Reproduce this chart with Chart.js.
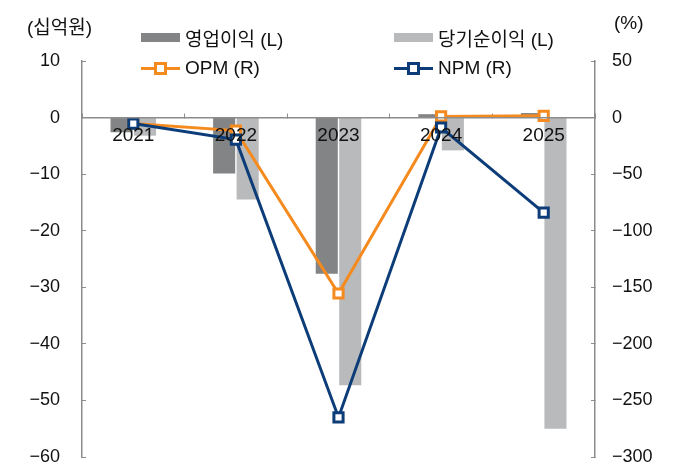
<!DOCTYPE html>
<html>
<head>
<meta charset="utf-8">
<script src="https://cdn.jsdelivr.net/npm/chart.js@4/dist/chart.umd.min.js"></script>
<style>
  body { margin: 0; background: #fff; }
  #wrap { position: relative; width: 680px; height: 473px; font-family: "Liberation Sans", "Noto Sans CJK KR", sans-serif; color: #111; }
  #myChart { position: absolute; left: 0; top: 0; }
  .unit { position: absolute; font-size: 19px; top: 12px; }
  .leg { position: absolute; font-size: 19px; display: flex; align-items: center; white-space: nowrap; }
  .leg .bar { width: 39px; height: 9px; margin-right: 5px; }
  .leg .ln { position: relative; width: 39px; height: 3px; margin-right: 5px; }
  .leg .ln i { position: absolute; left: 13px; top: -5px; width: 7px; height: 7px; border: 3px solid; background: #fff; }
</style>
</head>
<body>
<div id="wrap">
  <canvas id="myChart" width="680" height="473"></canvas>
  <div class="unit" style="left:27px">(십억원)</div>
  <div class="unit" style="left:614px">(%)</div>
  <div class="leg" style="left:141px;top:24px"><span class="bar" style="background:#828486"></span>영업이익 (L)</div>
  <div class="leg" style="left:394px;top:24px"><span class="bar" style="background:#b9babc"></span>당기순이익 (L)</div>
  <div class="leg" style="left:141px;top:57px"><span class="ln" style="background:#f58a1f"><i style="border-color:#f58a1f"></i></span>OPM (R)</div>
  <div class="leg" style="left:394px;top:57px"><span class="ln" style="background:#0d3d78"><i style="border-color:#0d3d78"></i></span>NPM (R)</div>
</div>
<script>
const labels = ["2021", "2022", "2023", "2024", "2025"];
const opIncome = [-2.6, -9.9, -27.6, 0.6, 0.8];
const netIncome = [-3.2, -14.5, -47.3, -5.8, -55.0];
const opm = [-5.3, -11.5, -155.5, 1.0, 1.5];
const npm = [-5.3, -19.5, -265, -8.8, -84];

const axisColor = "#8c8c8c";
const minus = (v) => String(v).replace("-", "\u2212");

// fixed axis widths, and no extra label padding above/below the plot
const fitY = (w) => (s) => {
  s.width = w;
  s.paddingTop = 0;
  s.paddingBottom = 0;
};

const ctx = document.getElementById("myChart").getContext("2d");

const config = {
  data: {
    labels,
    datasets: [
      {
        type: "line",
        label: "NPM (R)",
        data: npm,
        yAxisID: "y1",
        borderColor: "#0d3d78",
        borderWidth: 3,
        pointStyle: "rect",
        pointRadius: 6.5,
        pointBorderWidth: 3,
        pointBackgroundColor: "#fff",
        pointBorderColor: "#0d3d78",
        tension: 0,
        order: 1,
      },
      {
        type: "line",
        label: "OPM (R)",
        data: opm,
        yAxisID: "y1",
        borderColor: "#f58a1f",
        borderWidth: 3,
        pointStyle: "rect",
        pointRadius: 6.5,
        pointBorderWidth: 3,
        pointBackgroundColor: "#fff",
        pointBorderColor: "#f58a1f",
        tension: 0,
        order: 2,
      },
      {
        type: "bar",
        label: "영업이익 (L)",
        data: opIncome,
        yAxisID: "y",
        backgroundColor: "#828486",
        categoryPercentage: 0.458,
        barPercentage: 0.94,
        order: 3,
      },
      {
        type: "bar",
        label: "당기순이익 (L)",
        data: netIncome,
        yAxisID: "y",
        backgroundColor: "#b9babc",
        categoryPercentage: 0.458,
        barPercentage: 0.94,
        order: 3,
      },
    ],
  },
  options: {
    responsive: false,
    animation: false,
    layout: { padding: { top: 61, bottom: 16 } },
    plugins: { legend: { display: false }, tooltip: { enabled: false } },
    scales: {
      x: {
        position: { y: 0 },
        grid: {
          offset: true,
          drawOnChartArea: false,
          tickLength: -5,
          color: axisColor,
        },
        border: { color: axisColor, width: 1.5, z: 1 },
        ticks: {
          z: 1,
          color: "#111",
          padding: 12,
          font: { family: "Liberation Sans", size: 19 },
        },
      },
      y: {
        position: "left",
        min: -60,
        max: 10,
        afterFit: fitY(82),
        grid: { drawOnChartArea: false, tickLength: -4, color: axisColor },
        border: { color: axisColor, width: 1.5 },
        ticks: {
          stepSize: 10,
          color: "#111",
          padding: 26,
          callback: minus,
          font: { family: "Liberation Sans", size: 18 },
        },
      },
      y1: {
        position: "right",
        min: -300,
        max: 50,
        afterFit: fitY(85),
        grid: { drawOnChartArea: false, tickLength: -4, color: axisColor },
        border: { color: axisColor, width: 1.5 },
        ticks: {
          stepSize: 50,
          color: "#111",
          padding: 21,
          callback: minus,
          font: { family: "Liberation Sans", size: 18 },
        },
      },
    },
  },
};

const myChart = new Chart(ctx, config);
</script>
</body>
</html>
